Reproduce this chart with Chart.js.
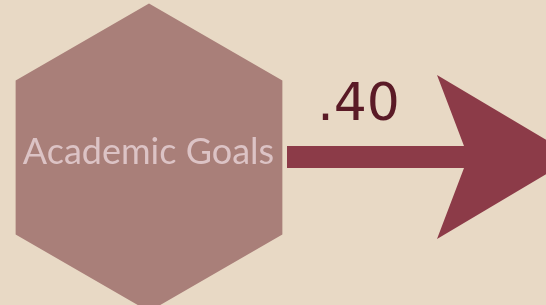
<!DOCTYPE html>
<html>
<head>
<meta charset="utf-8">
<script src="https://cdn.jsdelivr.net/npm/chart.js@4"></script>
<style>
  html, body { margin: 0; padding: 0; background: #e8d9c5; }
  #wrap { width: 546px; height: 305px; }
</style>
</head>
<body>
<div id="wrap"><canvas id="myChart" width="546" height="305"></canvas></div>
<script>
// path diagram: one predictor node and its coefficient
const nodes = ['Academic Goals'];
const coefficients = [0.40];

// layout (in canvas units, x 0..546, y 0..305)
const W = 546, H = 305;
const hex = { cx: 149, cy: 157.5, r: 154 };
const arrow = { x0: 287, notch: 464, back: 437, tip: 575, y: 157, half: 11, headHalf: 82 };

const hexPoints = () => {
  const pts = [];
  for (let i = 0; i <= 6; i++) {
    const a = (-90 + 60 * i) * Math.PI / 180;
    pts.push({ x: hex.cx + hex.r * Math.cos(a), y: hex.cy + hex.r * Math.sin(a) });
  }
  return pts;
};

const arrowPoints = () => [
  { x: arrow.x0, y: arrow.y - arrow.half },
  { x: arrow.notch, y: arrow.y - arrow.half },
  { x: arrow.back, y: arrow.y - arrow.headHalf },
  { x: arrow.tip, y: arrow.y },
  { x: arrow.back, y: arrow.y + arrow.headHalf },
  { x: arrow.notch, y: arrow.y + arrow.half },
  { x: arrow.x0, y: arrow.y + arrow.half },
  { x: arrow.x0, y: arrow.y - arrow.half },
];

const fmt = (v) => v.toFixed(2).replace(/^0/, '');

const labelsPlugin = {
  id: 'labels',
  afterDatasetsDraw(chart) {
    const { ctx, scales: { x, y } } = chart;
    ctx.save();
    ctx.textAlign = 'center';
    ctx.textBaseline = 'alphabetic';
    ctx.fillStyle = '#dcc3c5';
    ctx.font = '36px Lato';
    ctx.fillText(nodes[0], x.getPixelForValue(148.5), y.getPixelForValue(164));
    ctx.fillStyle = '#5a1a26';
    ctx.font = '52px "DejaVu Sans"';
    ctx.fillText(fmt(coefficients[0]), x.getPixelForValue(358.5), y.getPixelForValue(120));
    ctx.restore();
  }
};

const shape = (data, color) => ({
  type: 'line',
  data,
  showLine: true,
  fill: 'shape',
  backgroundColor: color,
  borderColor: color,
  borderWidth: 0,
  pointRadius: 0,
  tension: 0,
});

const ctx = document.getElementById('myChart').getContext('2d');
new Chart(ctx, {
  type: 'scatter',
  data: {
    datasets: [
      shape(hexPoints(), '#a97f79'),
      shape(arrowPoints(), '#8c3b48'),
    ]
  },
  options: {
    responsive: false,
    animation: false,
    layout: { padding: 0 },
    plugins: { legend: { display: false }, tooltip: { enabled: false } },
    scales: {
      x: { type: 'linear', min: 0, max: W, display: false },
      y: { type: 'linear', min: 0, max: H, reverse: true, display: false },
    }
  },
  plugins: [labelsPlugin]
});
</script>
</body>
</html>
